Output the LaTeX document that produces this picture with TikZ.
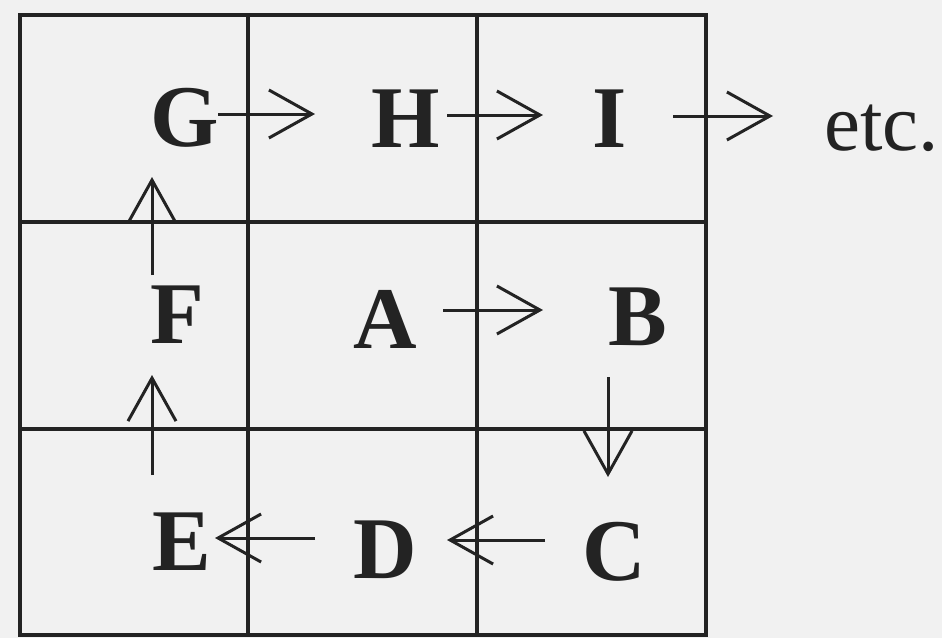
\documentclass[tikz,border=0pt]{standalone}
\usepackage{fontspec}
\setmainfont{Liberation Serif}
\usetikzlibrary{arrows.meta}
\definecolor{bg}{RGB}{241,241,241}
\definecolor{ink}{RGB}{35,35,35}
\tikzset{
  cell/.style={draw=ink, line width=3.4pt},
  letter/.style={inner sep=0pt, anchor=base, text=ink, font=\fontsize{88}{88}\selectfont\bfseries},
  etcstyle/.style={inner sep=0pt, anchor=base west, text=ink, font=\fontsize{81}{81}\selectfont},
  arr/.style={draw=ink, line width=3pt, -{Straight Barb[length=43pt,width=48pt,line width=3pt]}}
}
\begin{document}
\begin{tikzpicture}[x=1pt,y=-1pt]
\fill[bg] (0,0) rectangle (942,638);
\useasboundingbox (0,0) rectangle (942,638);
% grid
\draw[cell] (20,15) rectangle (706,635);
\draw[cell] (248,15) -- (248,635);
\draw[cell] (477,15) -- (477,635);
\draw[cell] (20,222) -- (706,222);
\draw[cell] (20,429) -- (706,429);
% letters
\node[letter] (G) at (185,146) {G};
\node[letter] (H) at (406,147) {H};
\node[letter] (I) at (610,147) {I};
\node[etcstyle] (etc) at (824,150) {etc.};
\node[letter] (F) at (177,343) {F};
\node[letter] (A) at (385,348) {A};
\node[letter] (B) at (638,345) {B};
\node[letter] (E) at (182,570) {E};
\node[letter] (D) at (385,578) {D};
\node[letter] (C) at (614,580) {C};
% arrows
\draw[arr] ([shift={(33,-32)}]G.base) -- ([shift={(-91,-33)}]H.base);
\draw[arr] ([shift={(41,-32)}]H.base) -- ([shift={(-67,-32)}]I.base);
\draw[arr] ([shift={(63,-31)}]I.base) -- ([shift={(-51,-34)}]etc.base west);
\draw[arr] ([shift={(58,-38)}]A.base) -- ([shift={(-95,-35)}]B.base);
\draw[arr] ([shift={(-30,32)}]B.base) -- ([shift={(-6,-103)}]C.base);
\draw[arr] ([shift={(-69,-40)}]C.base) -- ([shift={(62,-38)}]D.base);
\draw[arr] ([shift={(-70,-40)}]D.base) -- ([shift={(33,-32)}]E.base);
\draw[arr] ([shift={(-30,-95)}]E.base) -- ([shift={(-25,32)}]F.base);
\draw[arr] ([shift={(-25,-68)}]F.base) -- ([shift={(-33,31)}]G.base);
\end{tikzpicture}
\end{document}
